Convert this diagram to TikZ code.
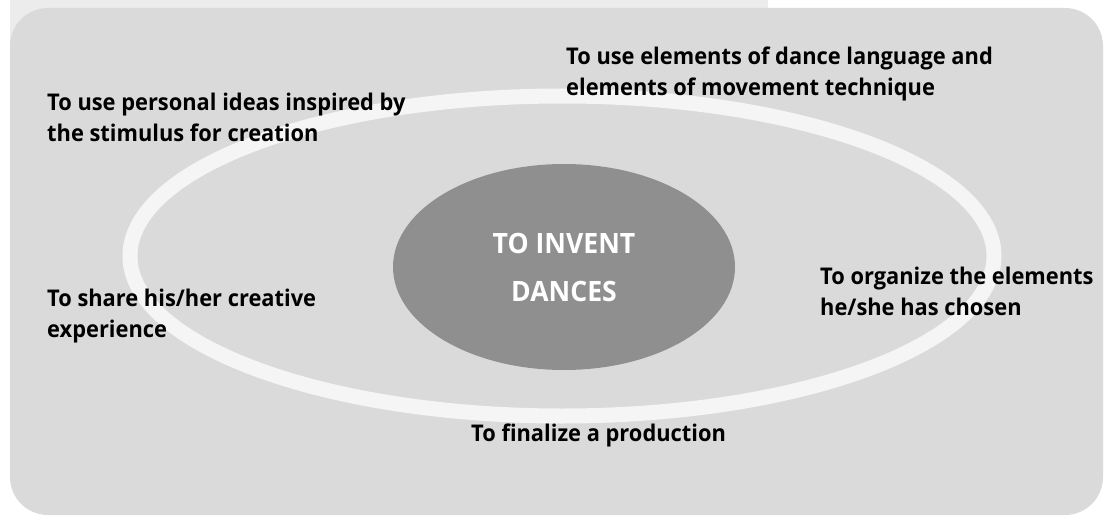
\documentclass[tikz,border=0pt]{standalone}
\usepackage{fontspec}
\usetikzlibrary{shapes.geometric}
\setmainfont{Open Sans}[BoldFont={* Bold},FakeStretch=0.95]
\definecolor{bgpanel}{HTML}{DADADA}
\definecolor{bgstrip}{HTML}{ECECEC}
\definecolor{ringcol}{HTML}{F5F5F5}
\definecolor{corecol}{HTML}{8F8F8F}
\begin{document}
\begin{tikzpicture}[x=1pt,y=-1pt,
  lbl/.style={anchor=north west,inner sep=0pt,align=left,text=black,
    font=\fontsize{23}{31}\selectfont\bfseries},
  core/.style={ellipse,fill=corecol,inner sep=0pt,minimum width=342pt,minimum height=206pt,
    text=white,align=center,font=\fontsize{28}{48}\selectfont\bfseries}]
\useasboundingbox (0,0) rectangle (1105,516);
\fill[bgstrip] (10,0) rectangle (768,50);
\fill[bgpanel,rounded corners=38pt] (10,8) rectangle (1103,515);
\draw[ringcol,line width=15pt] (562,256) ellipse [x radius=432, y radius=160];
\node[core] (core) at (564,267) {TO INVENT\\DANCES};
\node[lbl] (lang) at (566,47) {To use elements of dance language and\\elements of movement technique};
\node[lbl] (ideas) at (47,93) {To use personal ideas inspired by\\the stimulus for creation};
\node[lbl] (share) at (47,289) {To share his/her creative\\experience};
\node[lbl] (organize) at (820,267) {To organize the elements\\he/she has chosen};
\node[lbl] (finalize) at (471,424) {To finalize a production};
\end{tikzpicture}
\end{document}
